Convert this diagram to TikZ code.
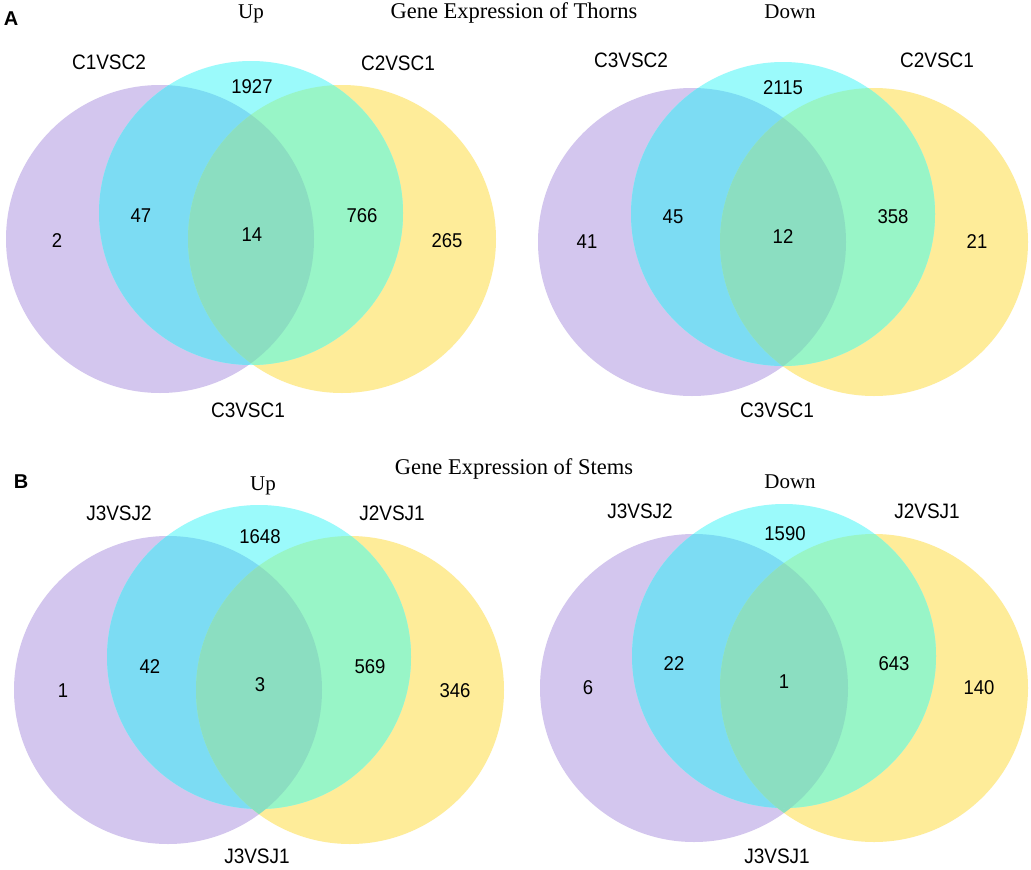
\documentclass[tikz,border=0pt]{standalone}
\usepackage{fontspec}
\setmainfont{Liberation Serif}
\setsansfont{Liberation Sans}
\definecolor{vP}{HTML}{D3C6EE}
\definecolor{vY}{HTML}{FEEC99}
\definecolor{vC}{HTML}{9BFAFB}
\definecolor{vPC}{HTML}{7CDCF3}
\definecolor{vCY}{HTML}{98F5C7}
\definecolor{vPCY}{HTML}{8BDEC1}
\newcommand\myvenn[3]{%
  \fill[vP] #1 circle[radius=154pt];
  \fill[vY] #2 circle[radius=154pt];
  \begin{scope}\clip #1 circle[radius=154pt]; \fill[vPCY] #2 circle[radius=154pt];\end{scope}
  \fill[vC] #3 circle[radius=152pt];
  \begin{scope}\clip #1 circle[radius=154pt]; \fill[vPC] #3 circle[radius=152pt];\end{scope}
  \begin{scope}\clip #2 circle[radius=154pt]; \fill[vCY] #3 circle[radius=152pt];\end{scope}
  \begin{scope}\clip #1 circle[radius=154pt]; \clip #2 circle[radius=154pt]; \fill[vPCY] #3 circle[radius=152pt];\end{scope}
}
\tikzset{
  num/.style={font=\sffamily\fontsize{18.5}{18.5}\selectfont, anchor=base, inner sep=0pt, yscale=1.08},
  lab/.style={font=\sffamily\fontsize{19}{19}\selectfont, anchor=base, inner sep=0pt, yscale=1.1},
  ttl/.style={font=\fontsize{21}{21}\selectfont, anchor=base, inner sep=0pt},
  bigttl/.style={font=\fontsize{22.5}{22.5}\selectfont, anchor=base, inner sep=0pt},
  panel/.style={font=\sffamily\bfseries\fontsize{20}{20}\selectfont, anchor=base, inner sep=0pt}
}
\begin{document}
\begin{tikzpicture}[x=1pt,y=-1pt]
\useasboundingbox[fill=white] (0,0) rectangle (1031,870);
% Panel A Up
\myvenn{(160,239)}{(342,239)}{(251,213)}
% Panel A Down
\myvenn{(692,242)}{(874,242)}{(783,214)}
% Panel B Up
\myvenn{(168,690)}{(350,690)}{(259,657)}
% Panel B Down
\myvenn{(694,688)}{(874,688)}{(784,656)}

% Titles A
\node[panel] (pA) at (11,25) {A};
\node[ttl] (aUp) at (251,18) {Up};
\node[bigttl] (aTitle) at (514,19) {Gene Expression of Thorns};
\node[ttl] (aDown) at (790,18) {Down};
% A Up labels
\node[lab] (a1l) at (109,69) {C1VSC2};
\node[lab] (a1r) at (398,70) {C2VSC1};
\node[lab] (a1b) at (248,417) {C3VSC1};
\node[num] (a1n1) at (252,93) {1927};
\node[num] (a1n2) at (141,222) {47};
\node[num] (a1n3) at (57,247) {2};
\node[num] (a1n4) at (252,241) {14};
\node[num] (a1n5) at (362,222) {766};
\node[num] (a1n6) at (447,247) {265};
% A Down labels
\node[lab] (a2l) at (631,67) {C3VSC2};
\node[lab] (a2r) at (937,67) {C2VSC1};
\node[lab] (a2b) at (777,417) {C3VSC1};
\node[num] (a2n1) at (783,94) {2115};
\node[num] (a2n2) at (673,223) {45};
\node[num] (a2n3) at (587,248) {41};
\node[num] (a2n4) at (783,243) {12};
\node[num] (a2n5) at (893,223) {358};
\node[num] (a2n6) at (977,248) {21};

% Titles B
\node[panel] (pB) at (21,488) {B};
\node[ttl] (bUp) at (263,490) {Up};
\node[bigttl] (bTitle) at (514,474) {Gene Expression of Stems};
\node[ttl] (bDown) at (790,488) {Down};
% B Up labels
\node[lab] (b1l) at (119,520) {J3VSJ2};
\node[lab] (b1r) at (392,520) {J2VSJ1};
\node[lab] (b1b) at (257,863) {J3VSJ1};
\node[num] (b1n1) at (260,543) {1648};
\node[num] (b1n2) at (150,673) {42};
\node[num] (b1n3) at (63,697) {1};
\node[num] (b1n4) at (260,691) {3};
\node[num] (b1n5) at (370,673) {569};
\node[num] (b1n6) at (455,697) {346};
% B Down labels
\node[lab] (b2l) at (640,518) {J3VSJ2};
\node[lab] (b2r) at (927,518) {J2VSJ1};
\node[lab] (b2b) at (777,863) {J3VSJ1};
\node[num] (b2n1) at (785,540) {1590};
\node[num] (b2n2) at (674,670) {22};
\node[num] (b2n3) at (588,694) {6};
\node[num] (b2n4) at (784,688) {1};
\node[num] (b2n5) at (894,670) {643};
\node[num] (b2n6) at (979,694) {140};
\end{tikzpicture}
\end{document}
